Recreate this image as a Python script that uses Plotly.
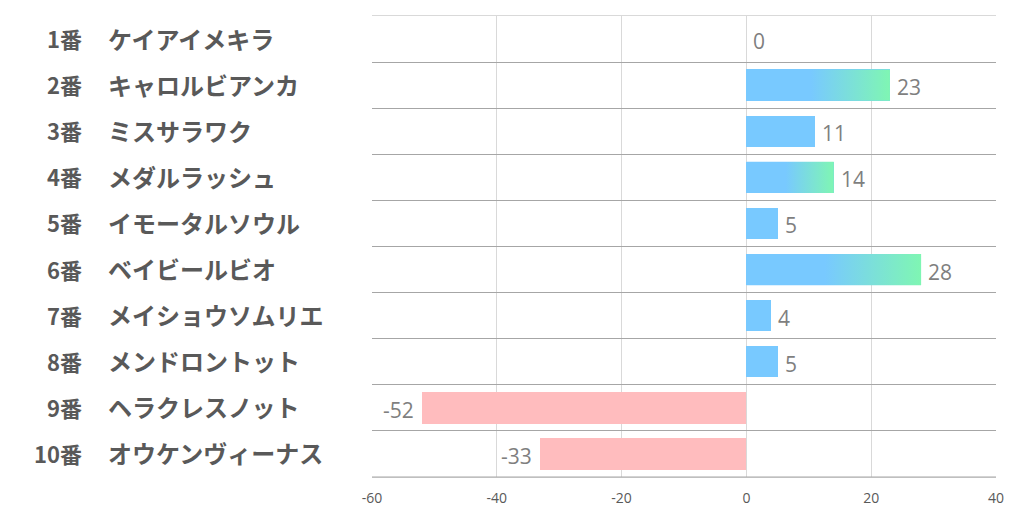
import plotly.graph_objects as go

numbers = ["1番", "2番", "3番", "4番", "5番", "6番", "7番", "8番", "9番", "10番"]
names = ["ケイアイメキラ", "キャロルビアンカ", "ミスサラワク", "メダルラッシュ", "イモータルソウル",
         "ベイビールビオ", "メイショウソムリエ", "メンドロントット", "ヘラクレスノット", "オウケンヴィーナス"]
values = [0, 23, 11, 14, 5, 28, 4, 5, -52, -33]
gradient_rows = [1, 3, 5]  # top three positive values shown with a gradient
x_ticks = [-60, -40, -20, 0, 20, 40]

BLUE = "#78c9ff"
GREEN = "#7ff6b3"
PINK = "#ffbcbe"
BAR_W = 0.68

ys = list(range(len(values)))
colors = [BLUE if v >= 0 else PINK for v in values]

fig = go.Figure()
fig.add_trace(go.Bar(
    x=values, y=ys, orientation="h", width=BAR_W,
    marker=dict(color=colors, line=dict(width=0)),
    hoverinfo="skip", showlegend=False,
))

for i in gradient_rows:
    v = values[i]
    h = BAR_W / 2
    fig.add_trace(go.Scatter(
        x=[0, v, v, 0, 0], y=[i - h, i - h, i + h, i + h, i - h],
        mode="lines", fill="toself",
        fillgradient=dict(type="horizontal",
                          colorscale=[[0, BLUE], [0.45, BLUE], [1, GREEN]]),
        line=dict(width=0, color="rgba(0,0,0,0)"),
        hoverinfo="skip", showlegend=False,
    ))

for i, v in enumerate(values):
    fig.add_annotation(x=v, y=i, xref="x", yref="y", text=str(v), showarrow=False,
                       xanchor="left" if v >= 0 else "right",
                       xshift=5 if v >= 0 else -6, yshift=-2,
                       font=dict(size=21, color="#7f7f7f", family="Open Sans"))

L, R = 372, 26
pw = 1022 - L - R
for i in ys:
    fig.add_annotation(x=(84 - L) / pw, xref="paper", xanchor="right", y=i, yref="y",
                       text=f"<b>{numbers[i]}</b>", showarrow=False, yshift=1,
                       font=dict(size=22, color="#595959", family="Noto Sans CJK JP"))
    fig.add_annotation(x=(106 - L) / pw, xref="paper", xanchor="left", y=i, yref="y",
                       text=f"<b>{names[i]}</b>", showarrow=False, yshift=1,
                       font=dict(size=24, color="#595959", family="Noto Sans CJK JP"))

fig.update_layout(
    width=1022, height=522,
    margin=dict(l=L, r=R, t=16, b=45),
    paper_bgcolor="white", plot_bgcolor="white",
    xaxis=dict(range=[-60, 40], tickvals=x_ticks, ticktext=[str(t) for t in x_ticks],
               showgrid=True, gridcolor="#d9d9d9", gridwidth=1,
               zeroline=False, showline=True, linecolor="#d9d9d9", mirror=True,
               tickfont=dict(size=14, color="#595959", family="Open Sans"),
               ticklabelstandoff=8, ticks="", fixedrange=True),
    yaxis=dict(range=[9.5, -0.5], tickvals=[i + 0.5 for i in range(-1, 10)],
               showticklabels=False, showgrid=True, gridcolor="#a6a6a6",
               gridwidth=1, zeroline=False, showline=False, ticks=""),
    bargap=0,
)
fig.add_shape(type="line", xref="paper", yref="paper", x0=0, x1=1, y0=0, y1=0,
              line=dict(color="#a6a6a6", width=1))
fig.write_html("out.html")
